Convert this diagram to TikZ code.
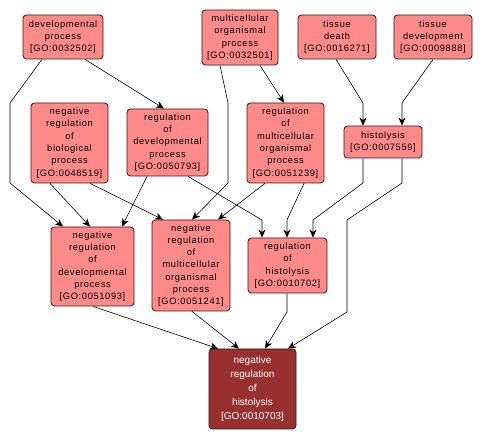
\documentclass[tikz,border=0pt]{standalone}
\usepackage{fontspec}
\setmainfont{Liberation Sans}
\newfontfamily\lblfont[LetterSpace=7]{Liberation Sans}
\usetikzlibrary{arrows.meta}
\definecolor{lightred}{RGB}{255,138,138}
\definecolor{darkred}{RGB}{153,48,48}
\definecolor{edgebrd}{RGB}{60,20,20}
\tikzset{
  gobox/.style={draw=edgebrd, line width=0.8pt, fill=lightred, rounded corners=3.5pt,
    align=center, inner sep=0pt, font=\lblfont\fontsize{9.3}{12.3}\selectfont, text=black},
  gofocus/.style={gobox, fill=darkred, text=white, font=\fontsize{10}{14}\selectfont},
  arr/.style={-{Stealth[length=8pt,width=7pt,inset=2.5pt]}, line width=0.6pt, black},
}
\begin{document}
\begin{tikzpicture}[x=1pt,y=-1pt]
\useasboundingbox (0,0) rectangle (483,438);
\fill[white] (0,0) rectangle (483,438);
\node[gobox, minimum width=80, minimum height=44] (dp) at (63,37) {developmental\\process\\{[GO:0032502]}};
\node[gobox, minimum width=76, minimum height=55] (mop) at (240,37.5) {multicellular\\organismal\\process\\{[GO:0032501]}};
\node[gobox, minimum width=78, minimum height=44] (td) at (337,37) {tissue\\death\\{[GO:0016271]}};
\node[gobox, minimum width=78, minimum height=44] (tdv) at (433,37) {tissue\\development\\{[GO:0009888]}};
\node[gobox, minimum width=77, minimum height=80] (nrb) at (69.5,143) {negative\\regulation\\of\\biological\\process\\{[GO:0048519]}};
\node[gobox, minimum width=81, minimum height=67] (rdp) at (167.5,142.5) {regulation\\of\\developmental\\process\\{[GO:0050793]}};
\node[gobox, minimum width=77, minimum height=80] (rmo) at (285.5,143) {regulation\\of\\multicellular\\organismal\\process\\{[GO:0051239]}};
\node[gobox, minimum width=78, minimum height=32] (his) at (383,142) {histolysis\\{[GO:0007559]}};
\node[gobox, minimum width=83, minimum height=79] (nrd) at (92.5,266.5) {negative\\regulation\\of\\developmental\\process\\{[GO:0051093]}};
\node[gobox, minimum width=78, minimum height=91] (nrm) at (191,265.5) {negative\\regulation\\of\\multicellular\\organismal\\process\\{[GO:0051241]}};
\node[gobox, minimum width=79, minimum height=55] (rh) at (287.5,265.5) {regulation\\of\\histolysis\\{[GO:0010702]}};
\node[gofocus, minimum width=87, minimum height=80] (nrh) at (252.5,389) {negative\\regulation\\of\\histolysis\\{[GO:0010703]}};

\draw[arr] ([xshift=-21]dp.south) -- (10,103) -- (10,183) -- ([xshift=-29.5]nrd.north);
\draw[arr] ([xshift=22]dp.south) -- ([xshift=-3.5]rdp.north);
\draw[arr] ([xshift=20]mop.south) -- ([xshift=-1.5]rmo.north);
\draw[arr] ([xshift=-20]mop.south) -- (228,103) -- (228,183) -- ([xshift=1]nrm.north);
\draw[arr] ([xshift=-1]td.south) -- (363,103) -- ([xshift=-20]his.north);
\draw[arr] (tdv.south) -- (402,103) -- ([xshift=19]his.north);
\draw[arr] ([xshift=-19.5]nrb.south) -- ([xshift=-2.5]nrd.north);
\draw[arr] ([xshift=20.5]nrb.south) -- ([xshift=-28]nrm.north);
\draw[arr] ([xshift=-20.5]rdp.south) -- ([xshift=29.5]nrd.north);
\draw[arr] ([xshift=20.5]rdp.south) -- (262,220) -- ([xshift=-25.5]rh.north);
\draw[arr] ([xshift=-20.5]rmo.south) -- ([xshift=27]nrm.north);
\draw[arr] ([xshift=18.5]rmo.south) -- (287,220) -- ([xshift=-0.5]rh.north);
\draw[arr] ([xshift=-20]his.south) -- (363,183) -- (313,220) -- ([xshift=25.5]rh.north);
\draw[arr] ([xshift=19]his.south) -- (402,183) -- (347,220) -- (347,312) -- ([xshift=35.5]nrh.north);
\draw[arr] ([xshift=0.5]nrd.south) -- ([xshift=-34.5]nrh.north);
\draw[arr] ([xshift=1]nrm.south) -- ([xshift=-13.5]nrh.north);
\draw[arr] ([xshift=-0.5]rh.south) -- (287,312) -- ([xshift=12.5]nrh.north);
\end{tikzpicture}
\end{document}
